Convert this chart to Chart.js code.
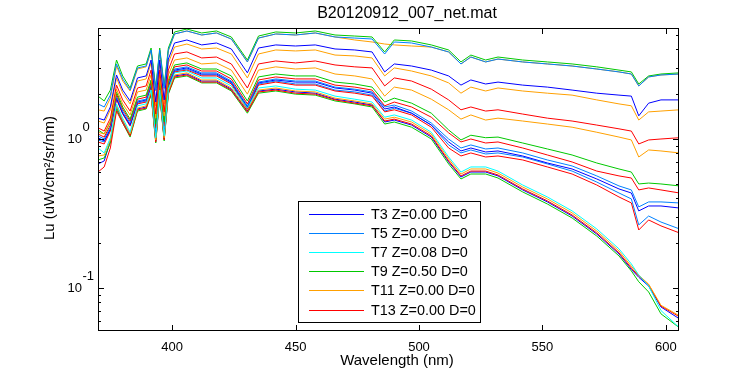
<!DOCTYPE html>
<html>
<head>
<meta charset="utf-8">
<script src="https://cdn.jsdelivr.net/npm/chart.js@4.4.1/dist/chart.umd.min.js"></script>
<style>
  html, body { margin: 0; padding: 0; background: #fff; }
  canvas { display: block; }
</style>
</head>
<body>
<canvas id="chart" width="750" height="375"></canvas>
<script>
// wavelength grid (nm) shared by all casts
const wavelengths = [370, 372.5, 375, 377.5, 380, 383, 386, 389.5, 391.5, 393.4, 395, 396.8, 398.5, 401, 406, 412, 418, 424, 430.5, 435, 442, 450, 458, 466, 474, 481, 486.1, 490, 497, 505, 512, 517, 521, 527, 532, 542, 552, 562, 572, 581, 586, 589, 593, 598, 605.5];

// Lu values, top group (shallowest)
const topGreen = [1.94, 1.80, 2.13, 3.39, 2.65, 2.20, 3.09, 3.19, 4.08, 2.20, 4.08, 2.27, 4.08, 5.23, 5.47, 5.15, 5.31, 4.84, 3.39, 4.91, 5.23, 5.15, 5.31, 4.99, 4.91, 4.84, 3.84, 4.62, 4.55, 4.28, 3.96, 3.29, 3.66, 3.39, 3.55, 3.39, 3.29, 3.19, 3.05, 2.90, 2.82, 2.34, 2.65, 2.73, 2.78];
const topLightBlue = [1.72, 1.64, 1.97, 3.19, 2.53, 2.13, 3.00, 3.09, 3.96, 2.13, 3.96, 2.20, 3.96, 5.07, 5.31, 4.99, 5.15, 4.69, 3.29, 4.76, 5.07, 4.99, 5.15, 4.84, 4.76, 4.69, 3.72, 4.48, 4.41, 4.14, 3.84, 3.19, 3.55, 3.29, 3.44, 3.29, 3.19, 3.09, 2.95, 2.82, 2.73, 2.27, 2.61, 2.69, 2.73];
const topOrange = [1.57, 1.54, 1.88, 3.09, 2.45, 2.10, 2.95, 3.05, 3.90, 2.10, 3.90, 2.16, 3.90, 5.07, 5.31, 4.99, 5.15, 4.69, 3.29, 4.76, 5.07, 4.99, 5.15, 4.84, 4.62, 4.48, 4.34, 4.28, 4.21, 4.14, 3.84, 3.19, 3.55, 3.29, 3.44, 3.29, 3.19, 3.09, 2.95, 2.82, 2.73, 2.27, 2.61, 2.69, 2.73];

// second group
const midBlue = [1.38, 1.34, 1.64, 2.69, 2.13, 1.80, 2.57, 2.65, 3.39, 1.77, 3.39, 1.83, 3.44, 4.41, 4.62, 4.28, 4.41, 4.02, 2.78, 4.08, 4.28, 4.21, 4.28, 4.02, 3.96, 3.84, 2.82, 3.19, 3.09, 2.90, 2.65, 2.30, 2.49, 2.34, 2.41, 2.30, 2.23, 2.13, 2.03, 1.97, 1.94, 1.43, 1.74, 1.83, 1.83];
const midOrange = [1.32, 1.28, 1.57, 2.57, 2.03, 1.72, 2.45, 2.53, 3.24, 1.67, 3.24, 1.72, 3.24, 4.14, 4.34, 4.02, 4.08, 3.72, 2.57, 3.72, 3.96, 3.90, 3.96, 3.66, 3.61, 3.50, 2.65, 3.00, 2.86, 2.65, 2.38, 2.03, 2.23, 2.10, 2.20, 2.10, 2.03, 1.97, 1.83, 1.72, 1.67, 1.34, 1.52, 1.54, 1.57];
const midRed = [1.19, 1.13, 1.38, 2.30, 1.83, 1.54, 2.20, 2.27, 2.90, 1.47, 2.90, 1.52, 2.90, 3.72, 3.84, 3.50, 3.55, 3.19, 2.20, 3.19, 3.34, 3.24, 3.34, 3.14, 3.05, 3.00, 2.27, 2.57, 2.45, 2.16, 1.83, 1.57, 1.64, 1.54, 1.57, 1.47, 1.38, 1.32, 1.24, 1.17, 1.13, 0.926, 0.985, 1.00, 1.02];
const midOrange2 = [1.11, 1.08, 1.32, 2.16, 1.72, 1.45, 2.07, 2.13, 2.69, 1.38, 2.69, 1.43, 2.69, 3.39, 3.50, 3.19, 3.24, 2.90, 2.00, 2.90, 3.05, 2.95, 3.00, 2.73, 2.65, 2.53, 1.94, 2.23, 2.13, 1.85, 1.57, 1.36, 1.45, 1.34, 1.38, 1.32, 1.26, 1.20, 1.11, 1.03, 0.985, 0.757, 0.844, 0.831, 0.806];

// third group
const lowGreen = [1.15, 1.08, 1.30, 2.07, 1.64, 1.36, 1.91, 1.97, 2.49, 1.26, 2.49, 1.30, 2.49, 3.14, 3.24, 2.95, 2.95, 2.65, 1.80, 2.61, 2.73, 2.65, 2.65, 2.41, 2.34, 2.23, 1.77, 1.88, 1.74, 1.49, 1.15, 0.985, 1.06, 1.02, 1.03, 0.940, 0.857, 0.781, 0.690, 0.629, 0.600, 0.499, 0.506, 0.499, 0.484];
const lowRed = [1.08, 1.03, 1.24, 2.00, 1.59, 1.32, 1.85, 1.91, 2.41, 1.19, 2.41, 1.22, 2.41, 3.05, 3.14, 2.86, 2.86, 2.53, 1.72, 2.49, 2.61, 2.53, 2.53, 2.30, 2.23, 2.13, 1.67, 1.77, 1.64, 1.40, 1.10, 0.955, 1.00, 0.940, 0.955, 0.870, 0.781, 0.701, 0.609, 0.565, 0.547, 0.455, 0.469, 0.455, 0.434];
const lowLightBlue = [1.05, 1.00, 1.20, 1.94, 1.54, 1.28, 1.80, 1.85, 2.34, 1.15, 2.34, 1.19, 2.34, 2.95, 3.05, 2.78, 2.78, 2.45, 1.67, 2.41, 2.53, 2.45, 2.45, 2.23, 2.16, 2.07, 1.64, 1.69, 1.54, 1.28, 1.00, 0.870, 0.912, 0.857, 0.870, 0.806, 0.723, 0.659, 0.565, 0.484, 0.455, 0.350, 0.378, 0.378, 0.372];
const lowBlue = [1.02, 0.970, 1.17, 1.88, 1.49, 1.24, 1.77, 1.83, 2.30, 1.11, 2.30, 1.15, 2.30, 2.90, 3.00, 2.73, 2.73, 2.41, 1.64, 2.38, 2.49, 2.41, 2.41, 2.20, 2.13, 2.03, 1.59, 1.64, 1.49, 1.24, 0.955, 0.831, 0.870, 0.818, 0.831, 0.769, 0.690, 0.629, 0.539, 0.462, 0.434, 0.329, 0.355, 0.355, 0.344];
const lowRed2 = [0.955, 0.926, 1.13, 1.85, 1.47, 1.22, 1.72, 1.77, 2.23, 1.08, 2.23, 1.11, 2.23, 2.82, 2.90, 2.65, 2.65, 2.34, 1.59, 2.30, 2.41, 2.30, 2.30, 2.10, 2.03, 1.94, 1.52, 1.57, 1.45, 1.20, 0.870, 0.769, 0.806, 0.757, 0.769, 0.723, 0.649, 0.582, 0.491, 0.408, 0.372, 0.245, 0.286, 0.261, 0.234];
const lowLightBlue2 = [0.985, 0.955, 1.15, 1.88, 1.49, 1.24, 1.74, 1.80, 2.27, 1.10, 2.27, 1.13, 2.27, 2.86, 2.95, 2.69, 2.69, 2.38, 1.61, 2.34, 2.45, 2.34, 2.34, 2.13, 2.07, 1.97, 1.54, 1.61, 1.49, 1.24, 0.912, 0.806, 0.844, 0.793, 0.806, 0.757, 0.680, 0.609, 0.514, 0.434, 0.396, 0.265, 0.304, 0.277, 0.249];

// bottom group (deepest)
const deepCyan = [0.870, 0.806, 1.02, 1.72, 1.38, 1.11, 1.67, 1.72, 2.13, 1.02, 2.13, 1.05, 2.16, 2.78, 2.86, 2.57, 2.57, 2.27, 1.61, 2.20, 2.27, 2.16, 2.13, 1.94, 1.85, 1.77, 1.40, 1.45, 1.34, 1.11, 0.757, 0.600, 0.649, 0.649, 0.609, 0.491, 0.408, 0.329, 0.249, 0.183, 0.145, 0.122, 0.103, 0.0705, 0.054];
const deepOrange = [0.769, 0.781, 0.985, 1.67, 1.34, 1.08, 1.61, 1.67, 2.07, 0.985, 2.07, 1.02, 2.10, 2.69, 2.78, 2.49, 2.49, 2.20, 1.57, 2.13, 2.20, 2.10, 2.07, 1.88, 1.80, 1.72, 1.36, 1.40, 1.30, 1.08, 0.734, 0.582, 0.629, 0.629, 0.591, 0.476, 0.396, 0.319, 0.241, 0.177, 0.140, 0.122, 0.106, 0.0765, 0.065];
const deepRed = [0.600, 0.649, 0.870, 1.54, 1.28, 1.05, 1.57, 1.61, 2.00, 0.955, 2.00, 0.985, 2.03, 2.61, 2.69, 2.41, 2.41, 2.13, 1.52, 2.07, 2.13, 2.03, 2.00, 1.83, 1.74, 1.67, 1.32, 1.36, 1.26, 1.05, 0.712, 0.565, 0.609, 0.609, 0.573, 0.462, 0.384, 0.309, 0.234, 0.172, 0.136, 0.120, 0.105, 0.0755, 0.064];
const deepGreen = [0.723, 0.746, 0.940, 1.59, 1.28, 1.03, 1.54, 1.59, 1.97, 0.940, 1.97, 0.970, 2.00, 2.57, 2.65, 2.38, 2.38, 2.10, 1.49, 2.03, 2.10, 2.00, 1.97, 1.80, 1.72, 1.64, 1.26, 1.30, 1.20, 1.00, 0.680, 0.539, 0.582, 0.582, 0.547, 0.441, 0.366, 0.295, 0.223, 0.164, 0.130, 0.110, 0.094, 0.067, 0.054];
const deepBlue = [0.680, 0.712, 0.970, 1.64, 1.32, 1.06, 1.59, 1.64, 2.03, 0.970, 2.03, 1.00, 2.07, 2.65, 2.73, 2.45, 2.45, 2.16, 1.54, 2.10, 2.16, 2.07, 2.03, 1.85, 1.77, 1.69, 1.30, 1.34, 1.24, 1.03, 0.701, 0.556, 0.600, 0.600, 0.565, 0.455, 0.378, 0.304, 0.230, 0.169, 0.133, 0.118, 0.103, 0.0745, 0.062];

const xTicks = [400, 450, 500, 550, 600];
const yMajorTicks = [0.1, 1];
const yMinorTicks = [0.06, 0.07, 0.08, 0.09, 0.2, 0.3, 0.4, 0.5, 0.6, 0.7, 0.8, 0.9, 2, 3, 4, 5];

const BLUE = 'rgb(0,0,255)';
const LBLUE = 'rgb(0,128,255)';
const CYAN = 'rgb(0,255,255)';
const GREEN = 'rgb(0,200,0)';
const ORANGE = 'rgb(255,160,0)';
const RED = 'rgb(255,0,0)';

// [values, colour, legend label or null]
const series = [
    [midBlue, BLUE, 'T3 Z=0.00 D=0'],
    [topLightBlue, LBLUE, 'T5 Z=0.00 D=0'],
    [deepCyan, CYAN, 'T7 Z=0.08 D=0'],
    [topGreen, GREEN, 'T9 Z=0.50 D=0'],
    [topOrange, ORANGE, 'T11 Z=0.00 D=0'],
    [midRed, RED, 'T13 Z=0.00 D=0'],
    [midOrange, ORANGE, null],
    [midOrange2, ORANGE, null],
    [lowGreen, GREEN, null],
    [lowRed, RED, null],
    [lowLightBlue, LBLUE, null],
    [lowBlue, BLUE, null],
    [lowRed2, RED, null],
    [lowLightBlue2, LBLUE, null],
    [deepOrange, ORANGE, null],
    [deepRed, RED, null],
    [deepGreen, GREEN, null],
    [deepBlue, BLUE, null]
];

const FONT = "'Liberation Sans', Arial, Helvetica, sans-serif";

const frame = {
    id: 'frame',
    afterDatasetsDraw(chart) {
        const { ctx, chartArea: a, scales: { x, y } } = chart;
        ctx.save();
        ctx.strokeStyle = '#000';
        ctx.lineWidth = 1;
        ctx.strokeRect(a.left + 0.5, a.top + 0.5, a.right - a.left - 1, a.bottom - a.top - 1);

        // inward ticks on all four sides, like matlab
        ctx.beginPath();
        xTicks.forEach(v => {
            const px = Math.round(x.getPixelForValue(v)) + 0.5;
            ctx.moveTo(px, a.bottom); ctx.lineTo(px, a.bottom - 6);
            ctx.moveTo(px, a.top); ctx.lineTo(px, a.top + 6);
        });
        const yTick = (v, len) => {
            const py = Math.round(y.getPixelForValue(v)) + 0.5;
            ctx.moveTo(a.left, py); ctx.lineTo(a.left + len, py);
            ctx.moveTo(a.right, py); ctx.lineTo(a.right - len, py);
        };
        yMajorTicks.forEach(v => yTick(v, 6));
        yMinorTicks.forEach(v => yTick(v, 3));
        ctx.stroke();

        // y tick labels as 10^n
        ctx.fillStyle = '#000';
        ctx.font = '13px ' + FONT;
        ctx.textBaseline = 'middle';
        yMajorTicks.forEach(v => {
            const py = y.getPixelForValue(v);
            ctx.textAlign = 'right';
            ctx.fillText('10', 82, py);
            ctx.textAlign = 'left';
            ctx.fillText(String(Math.round(Math.log10(v))), 82.5, py - 12);
        });

        // legend box
        const lx = 298, ly = 201, lw = 182, lh = 121;
        ctx.fillStyle = '#fff';
        ctx.fillRect(lx, ly, lw, lh);
        ctx.strokeRect(lx + 0.5, ly + 0.5, lw, lh);
        ctx.font = '14.4px ' + FONT;
        ctx.textAlign = 'left';
        let row = 0;
        chart.data.datasets.forEach(ds => {
            if (!ds.label) return;
            const ry = Math.round(ly + 12.5 + row * 19.2) + 0.5;
            ctx.strokeStyle = ds.borderColor;
            ctx.beginPath();
            ctx.moveTo(309, ry); ctx.lineTo(364, ry);
            ctx.stroke();
            ctx.fillStyle = '#000';
            ctx.fillText(ds.label, 371, ry + 1);
            row++;
        });

        // titles
        ctx.fillStyle = '#000';
        ctx.textAlign = 'center';
        ctx.font = '16px ' + FONT;
        ctx.fillText('B20120912_007_net.mat', 407, 14);
        ctx.font = '15px ' + FONT;
        ctx.fillText('Wavelength (nm)', 397, 361);
        ctx.translate(50, 178);
        ctx.rotate(-Math.PI / 2);
        ctx.fillText('Lu (uW/cm\u00B2/sr/nm)', 0, 0);
        ctx.restore();
    }
};

new Chart(document.getElementById('chart').getContext('2d'), {
    type: 'line',
    data: {
        datasets: series.map(([vals, color, label]) => ({
            label: label,
            data: wavelengths.map((w, i) => ({ x: w, y: vals[i] })),
            borderColor: color,
            backgroundColor: color,
            borderWidth: 1,
            pointRadius: 0,
            tension: 0,
            fill: false
        }))
    },
    options: {
        responsive: false,
        animation: false,
        layout: { padding: { top: 28, right: 71, left: 0, bottom: 0 } },
        plugins: {
            legend: { display: false },
            title: { display: false },
            tooltip: { enabled: false }
        },
        scales: {
            x: {
                type: 'linear',
                min: 370,
                max: 605.3,
                afterBuildTicks: s => { s.ticks = xTicks.map(v => ({ value: v })); },
                afterFit: s => { s.height = 44; },
                grid: { display: false },
                border: { display: false },
                ticks: { color: '#000', font: { size: 13, family: FONT }, padding: 1, maxRotation: 0 }
            },
            y: {
                type: 'logarithmic',
                min: 0.0514,
                max: 5.56,
                afterFit: s => { s.width = 98; },
                grid: { display: false },
                border: { display: false },
                ticks: { display: false }
            }
        }
    },
    plugins: [frame]
});
</script>
</body>
</html>
